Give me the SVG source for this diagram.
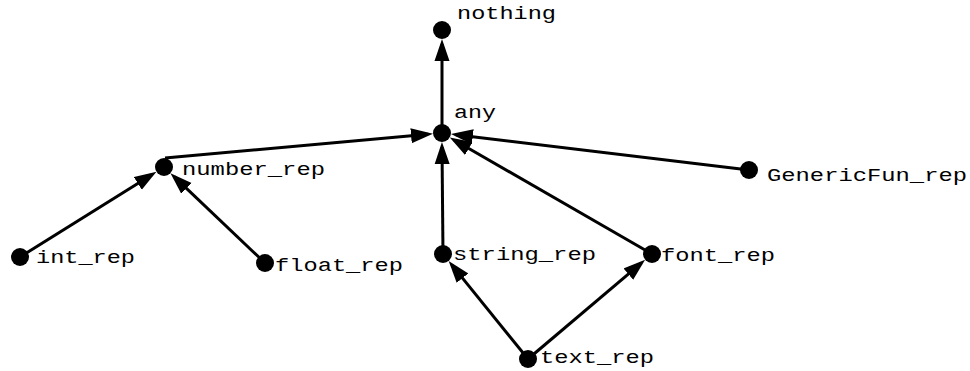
<svg xmlns="http://www.w3.org/2000/svg" width="970" height="371" viewBox="0 0 970 371">
<style>
.n circle{fill:#000}
.n text{font-family:"Liberation Mono","Courier New",monospace;font-size:18px;fill:#000}
.e line{stroke:#000;stroke-width:3;marker-end:url(#ah)}
</style>
<defs>
<marker id="ah" markerUnits="userSpaceOnUse" markerWidth="22" markerHeight="16" refX="17" refY="7.5" orient="auto" viewBox="0 0 22 15">
<path d="M0,0 L22,7.5 L0,15 Z" fill="#000"/>
</marker>
</defs>
<rect width="970" height="371" fill="#fff"/>
<g id="connectors" class="e">
<line x1="442" y1="133" x2="442" y2="44"/>
<line x1="165" y1="158" x2="428" y2="134.3"/>
<line x1="749" y1="170" x2="455.9" y2="134.7"/>
<line x1="443" y1="254" x2="442" y2="147"/>
<line x1="652" y1="254" x2="454.1" y2="140"/>
<line x1="20" y1="257" x2="152.2" y2="174.4"/>
<line x1="265" y1="263" x2="174.1" y2="176.6"/>
<line x1="528" y1="359" x2="451.8" y2="264.9"/>
<line x1="528" y1="359" x2="641.3" y2="263.1"/>
</g>
<g id="nothing" class="n"><circle cx="442" cy="30" r="9"/><text x="457" y="19" textLength="99" lengthAdjust="spacingAndGlyphs">nothing</text></g>
<g id="any" class="n"><circle cx="442" cy="133" r="9"/><text x="454" y="118" textLength="42" lengthAdjust="spacingAndGlyphs">any</text></g>
<g id="number_rep" class="n"><circle cx="164" cy="167" r="9"/><text x="182" y="175" textLength="143" lengthAdjust="spacingAndGlyphs">number_rep</text></g>
<g id="int_rep" class="n"><circle cx="20" cy="257" r="9"/><text x="36" y="263" textLength="99" lengthAdjust="spacingAndGlyphs">int_rep</text></g>
<g id="float_rep" class="n"><circle cx="265" cy="263" r="9"/><text x="275" y="271" textLength="128" lengthAdjust="spacingAndGlyphs">float_rep</text></g>
<g id="string_rep" class="n"><circle cx="443" cy="254" r="9"/><text x="453" y="260" textLength="143" lengthAdjust="spacingAndGlyphs">string_rep</text></g>
<g id="font_rep" class="n"><circle cx="652" cy="254" r="9"/><text x="661" y="261" textLength="114" lengthAdjust="spacingAndGlyphs">font_rep</text></g>
<g id="text_rep" class="n"><circle cx="528" cy="359" r="9"/><text x="540" y="363" textLength="114" lengthAdjust="spacingAndGlyphs">text_rep</text></g>
<g id="GenericFun_rep" class="n"><circle cx="749" cy="170" r="9"/><text x="767" y="181" textLength="200" lengthAdjust="spacingAndGlyphs">GenericFun_rep</text></g>
</svg>
